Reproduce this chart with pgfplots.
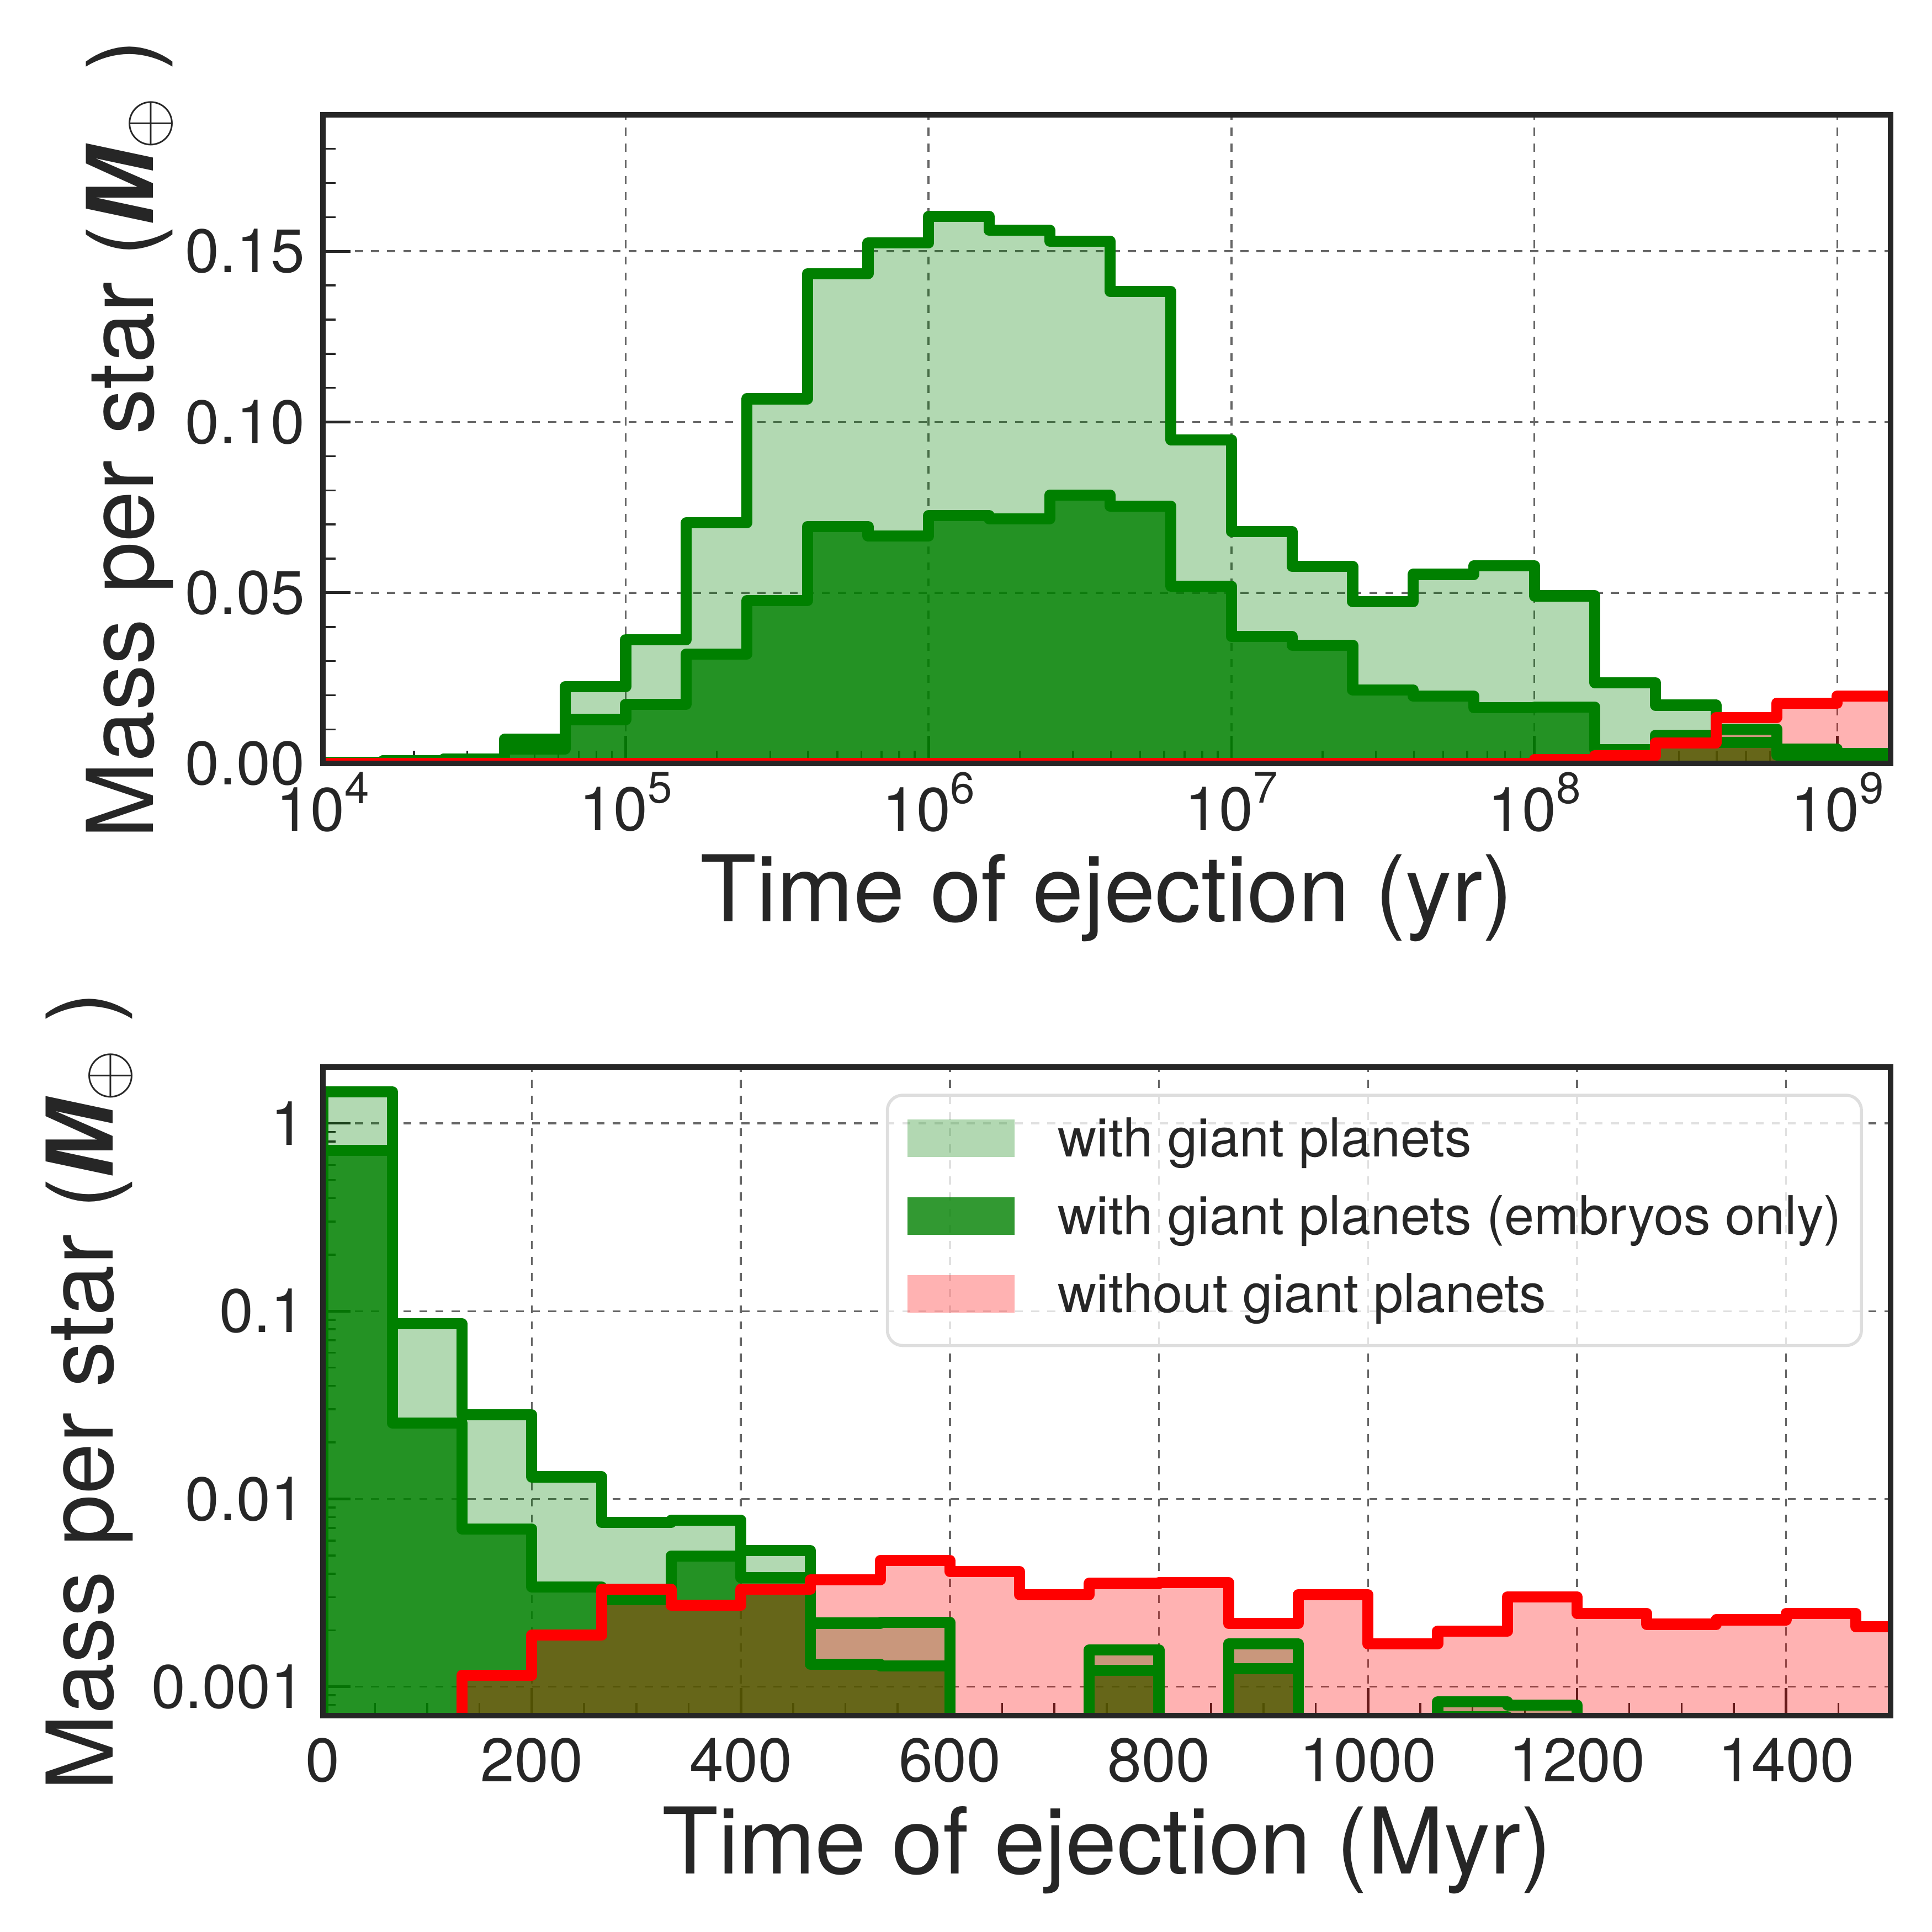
\documentclass[border=0pt]{standalone}
\usepackage{pgfplots}
\usepackage{pgfplotstable}
\pgfplotsset{compat=1.18}
\usepackage{fontspec}
\setmainfont{TeX Gyre Heros}

\definecolor{axgray}{RGB}{38,38,38}
\definecolor{gridgray}{RGB}{102,102,102}
\definecolor{mplgreen}{RGB}{0,128,0}
\definecolor{mplred}{RGB}{255,0,0}
\definecolor{legframe}{RGB}{222,222,222}

\newcommand{\tenpow}[1]{10\raisebox{0.45em}{\fontsize{11.5}{12}\selectfont #1}}
\newcommand{\massunit}{Mass per star ({\bfseries\itshape M}$_{\oplus}$ )}

% ejected mass per star in 0.2 dex bins (left bin edge, yr)
\pgfplotstableread{
x          gtot    gemb    nogp
1e4        0       0       0
1e4        0.0003  0.0003  0
1.5849e4   0.0009  0.0009  0
2.5119e4   0.0013  0.0013  0
3.9811e4   0.0071  0.0043  0
6.3096e4   0.0225  0.0129  0
1e5        0.0363  0.0174  0
1.5849e5   0.0705  0.0321  0
2.5119e5   0.1068  0.0477  0
3.9811e5   0.1434  0.0694  0
6.3096e5   0.1524  0.0666  0
1e6        0.1602  0.0726  0
1.5849e6   0.1561  0.0717  0
2.5119e6   0.1529  0.0786  0
3.9811e6   0.1382  0.0753  0
6.3096e6   0.0948  0.0519  0
1e7        0.0679  0.0372  0
1.5849e7   0.0577  0.0347  0
2.5119e7   0.0474  0.0216  0
3.9811e7   0.0554  0.0197  0
6.3096e7   0.0579  0.0164  0
1e8        0.0491  0.0165  0.0012
1.5849e8   0.0237  0.0040  0.0023
2.5119e8   0.0171  0.0083  0.0061
3.9811e8   0.0101  0.0062  0.0135
6.3096e8   0.0043  0.0025  0.0177
1e9        0.0030  0.0020  0.0198
1.5849e9   0.0030  0.0020  0.0198
1.5849e9   0       0       0
}\toptable

% ejected mass per star in 66.7 Myr bins (left bin edge, Myr)
\pgfplotstableread{
x        gtot     gemb     nogp
0        0        0        0
0        1.47     0.716    0
66.67    0.0855   0.0253   0
133.33   0.028    0.00693  0.00115
200      0.0131   0.0034   0.00188
266.67   0.0075   0.0029   0.0033
333.33   0.0077   0.00496  0.00271
400      0.0053   0.0038   0.0033
466.67   0.00218  0.00132  0.0037
533.33   0.0022   0.00129  0.0047
600      0        0        0.0041
666.67   0        0        0.00309
733.33   0.00157  0.00122  0.00355
800      0        0        0.00358
866.67   0.00169  0.00125  0.00217
933.33   0        0        0.00309
1000     0        0        0.00169
1066.67  0.00083  0.00069  0.00198
1133.33  0.0008   0        0.00301
1200     0        0        0.00246
1266.67  0        0        0.00215
1333.33  0        0        0.00227
1400     0        0        0.00246
1466.67  0        0        0.00209
1533.33  0        0        0.00209
1533.33  0        0        0
}\bottable

\pgfplotsset{
  histstyle/.style={
    width=409pt, height=169.3pt, scale only axis,
    clip mode=individual,
    axis line style={draw=axgray, line width=1.44pt},
    tick align=inside, tick pos=left,
    major tick length=7.3pt, minor tick length=3.4pt,
    every major tick/.append style={draw=axgray, line width=0.7pt},
    every minor tick/.append style={draw=axgray, line width=0.5pt},
    grid=major,
    major grid style={draw=gridgray, line width=0.5pt, dash pattern=on 2.1pt off 2.1pt},
    every tick label/.append style={font=\fontsize{16}{19}\selectfont, text=axgray},
    xticklabel style={inner sep=0pt},
    yticklabel style={inner sep=0pt, xshift=-4.5pt},
    label style={font=\fontsize{24}{29}\selectfont, text=axgray},
    xlabel style={at={(axis description cs:0.5,0)}, anchor=base, yshift=-41.2pt},
  },
  fillA/.style={forget plot, draw=none, fill=mplgreen, fill opacity=0.3, const plot mark left},
  fillB/.style={forget plot, draw=none, fill=mplgreen, fill opacity=0.8, const plot mark left},
  fillC/.style={forget plot, draw=none, fill=mplred, fill opacity=0.3, const plot mark left},
  edgeG/.style={forget plot, draw=mplgreen, line width=2.9pt, line join=round, line cap=round, const plot mark left},
  edgeR/.style={forget plot, draw=mplred, line width=2.9pt, line join=round, line cap=round, const plot mark left},
}

\begin{document}
\begin{tikzpicture}
\useasboundingbox (0,0) rectangle (504pt,504pt);

% upper panel: logarithmic time axis
\begin{axis}[
  histstyle,
  at={(84.2pt,304.8pt)}, anchor=south west,
  xmode=log, xmin=1e4, xmax=1.5e9, ymin=0, ymax=0.19,
  xtick={1e4,1e5,1e6,1e7,1e8,1e9},
  xticklabels={\tenpow{4},\tenpow{5},\tenpow{6},\tenpow{7},\tenpow{8},\tenpow{9}},
  xticklabel style={yshift=-2pt},
  minor xtick={2e4,3e4,4e4,5e4,6e4,7e4,8e4,9e4,
               2e5,3e5,4e5,5e5,6e5,7e5,8e5,9e5,
               2e6,3e6,4e6,5e6,6e6,7e6,8e6,9e6,
               2e7,3e7,4e7,5e7,6e7,7e7,8e7,9e7,
               2e8,3e8,4e8,5e8,6e8,7e8,8e8,9e8},
  ytick={0,0.05,0.1,0.15},
  yticklabels={0.00,0.05,0.10,0.15},
  minor ytick={0.01,0.02,0.03,0.04,0.06,0.07,0.08,0.09,0.11,0.12,0.13,0.14,0.16,0.17,0.18},
  xlabel={Time of ejection (yr)},
  ylabel={\massunit},
  ylabel style={at={(axis description cs:-0.1232,0.5)}, anchor=center},
]
\addplot[fillA] table[x=x, y=gtot] {\toptable};
\addplot[fillB] table[x=x, y=gemb] {\toptable};
\addplot[fillC] table[x=x, y=nogp] {\toptable};
\addplot[edgeG] table[x=x, y=gtot] {\toptable};
\addplot[edgeG] table[x=x, y=gemb] {\toptable};
\addplot[edgeR] table[x=x, y=nogp] {\toptable};
\draw[axgray, line width=1.44pt] (rel axis cs:0,0) rectangle (rel axis cs:1,1);
\end{axis}

% lower panel: linear time axis, logarithmic mass axis
\begin{axis}[
  histstyle,
  at={(84.2pt,56.4pt)}, anchor=south west,
  xmin=0, xmax=1500, ymode=log, ymin=7e-4, ymax=2,
  xtick={0,200,400,600,800,1000,1200,1400},
  xticklabels={0,200,400,600,800,1000,1200,1400},
  xticklabel style={yshift=-5.6pt},
  minor xtick={50,100,150,250,300,350,450,500,550,650,700,750,850,900,950,
               1050,1100,1150,1250,1300,1350,1450,1500},
  ytick={0.001,0.01,0.1,1},
  yticklabels={0.001,0.01,0.1,1},
  minor ytick={8e-4,9e-4,2e-3,3e-3,4e-3,5e-3,6e-3,7e-3,8e-3,9e-3,
               2e-2,3e-2,4e-2,5e-2,6e-2,7e-2,8e-2,9e-2,
               0.2,0.3,0.4,0.5,0.6,0.7,0.8,0.9,2},
  xlabel={Time of ejection (Myr)},
  ylabel={\massunit},
  ylabel style={at={(axis description cs:-0.149,0.5)}, anchor=center},
  legend cell align=left,
  legend style={
    at={(axis description cs:1,1)}, anchor=north east, xshift=-7.2pt, yshift=-7pt,
    draw=legframe, line width=0.8pt, rounded corners=4pt,
    fill=white, fill opacity=0.8, text opacity=1,
    inner xsep=5.2pt, inner ysep=5.6pt, row sep=6.8pt,
    font=\fontsize{14}{17}\selectfont, text=axgray,
    nodes={inner sep=0pt, text height=10.5pt, text depth=3pt},
    /tikz/every odd column/.style={column sep=11.3pt},
  },
]
\addplot[fillA] table[x=x, y expr={max(\thisrow{gtot},1e-6)}] {\bottable};
\addplot[fillB] table[x=x, y expr={max(\thisrow{gemb},1e-6)}] {\bottable};
\addplot[fillC] table[x=x, y expr={max(\thisrow{nogp},1e-6)}] {\bottable};
\addplot[edgeG] table[x=x, y expr={max(\thisrow{gtot},1e-6)}] {\bottable};
\addplot[edgeG] table[x=x, y expr={max(\thisrow{gemb},1e-6)}] {\bottable};
\addplot[edgeR] table[x=x, y expr={max(\thisrow{nogp},1e-6)}] {\bottable};
\draw[axgray, line width=1.44pt] (rel axis cs:0,0) rectangle (rel axis cs:1,1);

\addlegendimage{legend image code/.code={\fill[draw=none, fill=mplgreen, fill opacity=0.3, sharp corners] (0pt,-3.75pt) rectangle (28pt,6.05pt);}}
\addlegendentry{with giant planets}
\addlegendimage{legend image code/.code={\fill[draw=none, fill=mplgreen, fill opacity=0.8, sharp corners] (0pt,-3.75pt) rectangle (28pt,6.05pt);}}
\addlegendentry{with giant planets (embryos only)}
\addlegendimage{legend image code/.code={\fill[draw=none, fill=mplred, fill opacity=0.3, sharp corners] (0pt,-3.75pt) rectangle (28pt,6.05pt);}}
\addlegendentry{without giant planets}
\end{axis}
\end{tikzpicture}
\end{document}
